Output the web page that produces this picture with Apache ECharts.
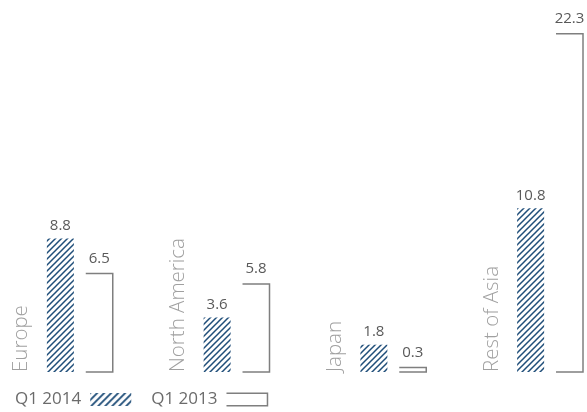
<!DOCTYPE html>
<html>
<head>
<meta charset="utf-8">
<script src="https://cdn.jsdelivr.net/npm/echarts@6/dist/echarts.min.js"></script>
<style>
  html, body { margin: 0; padding: 0; background: #fff; }
  #chart { width: 587px; height: 412px; }
</style>
</head>
<body>
<div id="chart"></div>
<script>
// Regional values, Q1 2014 vs Q1 2013
const categories = ['Europe', 'North America', 'Japan', 'Rest of Asia'];
const q1_2014 = [8.8, 3.6, 1.8, 10.8];
const q1_2013 = [6.5, 5.8, 0.3, 22.3];
const seriesNames = ['Q1 2014', 'Q1 2013'];

const BAR_W = 27;
const GAP_RATIO = 0.44;                 // barGap as a fraction of bar width
const STEP = BAR_W * (1 + GAP_RATIO);   // centre-to-centre distance inside a group
const HATCH = '#1f4e79';
const OUTLINE = '#7f7f7f';
const VALUE_COLOR = '#595959';
const FONT = '"Open Sans", "Noto Sans", sans-serif';

// forward-slash hatch tile
function hatchTile(size, width, color) {
  const c = document.createElement('canvas');
  c.width = size; c.height = size;
  const ctx = c.getContext('2d');
  ctx.fillStyle = '#fff';
  ctx.fillRect(0, 0, size, size);
  ctx.strokeStyle = color;
  ctx.lineWidth = width;
  ctx.beginPath();
  ctx.moveTo(-1, size + 1); ctx.lineTo(size + 1, -1);
  ctx.moveTo(-1, 1); ctx.lineTo(1, -1);
  ctx.moveTo(size - 1, size + 1); ctx.lineTo(size + 1, size - 1);
  ctx.stroke();
  return c;
}
const hatchFill = { image: hatchTile(6, 1.5, HATCH), repeat: 'repeat' };
const legendHatch = { image: hatchTile(7, 1.8, HATCH), repeat: 'repeat' };

const chart = echarts.init(document.getElementById('chart'), null, { renderer: 'canvas' });

const zeros = categories.map(() => 0);

chart.setOption({
  animation: false,
  backgroundColor: '#fff',
  grid: { left: -18, width: 627, top: 8, bottom: 40, containLabel: false, outerBoundsMode: 'none' },
  xAxis: { type: 'category', data: categories, show: false },
  yAxis: { type: 'value', min: 0, max: 24, show: false },
  legend: {
    left: 10,
    bottom: -1,
    align: 'right',
    itemWidth: 41,
    itemHeight: 13,
    itemGap: 20,
    textStyle: { color: '#6b6b6b', fontSize: 17, fontFamily: FONT, padding: [0, 4, 0, 0] },
    data: [
      { name: seriesNames[0], icon: 'rect', itemStyle: { color: legendHatch } },
      {
        name: seriesNames[1],
        icon: 'path://M0,0H40V12H0',
        itemStyle: { color: 'rgba(0,0,0,0)', borderColor: OUTLINE, borderWidth: 1.5 }
      }
    ]
  },
  series: [
    {
      // category names, set upright beside each group
      name: 'labels',
      type: 'bar',
      barWidth: BAR_W,
      barGap: GAP_RATIO * 100 + '%',
      data: zeros,
      itemStyle: { color: 'rgba(0,0,0,0)' },
      label: {
        show: true,
        position: 'insideBottom',
        distance: 0,
        rotate: 90,
        align: 'left',
        verticalAlign: 'middle',
        formatter: '{b}',
        color: '#a0a0a0',
        fontSize: 20.5,
        fontWeight: 300,
        fontFamily: FONT
      },
      silent: true
    },
    {
      name: seriesNames[0],
      type: 'bar',
      barWidth: BAR_W,
      barGap: GAP_RATIO * 100 + '%',
      data: q1_2014,
      itemStyle: { color: hatchFill },
      label: {
        show: true,
        position: 'top',
        distance: 5,
        color: VALUE_COLOR,
        fontSize: 15,
        fontFamily: FONT,
        formatter: p => p.value.toFixed(1)
      }
    },
    {
      // keeps a slot in each group for the outlined Q1 2013 mark
      name: 'slot',
      type: 'bar',
      barWidth: BAR_W,
      barGap: GAP_RATIO * 100 + '%',
      data: zeros,
      itemStyle: { color: 'rgba(0,0,0,0)' },
      silent: true
    },
    {
      // open outline: top, right and bottom edges only
      name: seriesNames[1],
      type: 'custom',
      data: q1_2013.map((v, i) => [i, v]),
      encode: { x: 0, y: 1 },
      itemStyle: { color: OUTLINE },
      renderItem: function (params, api) {
        const top = api.coord([api.value(0), api.value(1)]);
        const base = api.coord([api.value(0), 0]);
        const x0 = top[0] + STEP - BAR_W / 2;
        const x1 = x0 + BAR_W;
        return {
          type: 'polyline',
          shape: { points: [[x0, top[1]], [x1, top[1]], [x1, base[1]], [x0, base[1]]] },
          style: { stroke: OUTLINE, lineWidth: 1.5, fill: null },
          textContent: {
            style: {
              text: api.value(1).toFixed(1),
              fill: VALUE_COLOR,
              fontSize: 15,
              fontFamily: FONT
            }
          },
          textConfig: { position: 'top', distance: 5 }
        };
      }
    }
  ]
});
</script>
</body>
</html>
